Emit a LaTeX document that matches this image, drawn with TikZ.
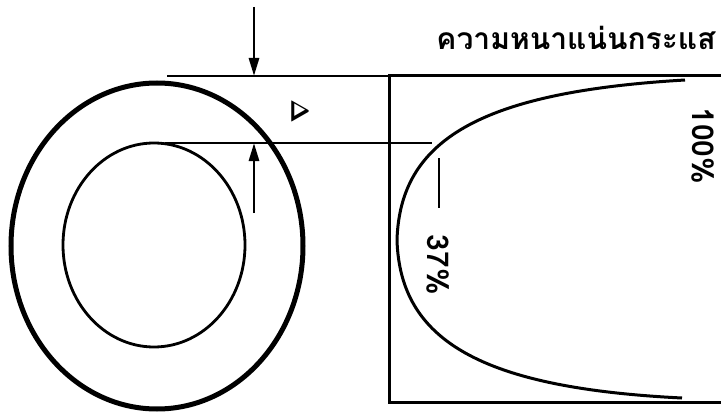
\documentclass[tikz,border=0pt]{standalone}
\usepackage{fontspec}
\usepackage{amsmath}
\newfontfamily\thaifont[Script=Thai]{Loma}
\usetikzlibrary{arrows.meta, positioning}

\begin{document}
\begin{tikzpicture}[
    x=1pt, y=-1pt,
    every node/.style={font=\thaifont\bfseries},
    ring/.style={line width=5pt},
    core/.style={line width=2.8pt},
    wire/.style={line width=2.8pt},
    frame/.style={line width=3pt},
    arrow/.style={-{Triangle[length=18pt, width=10pt]}, line width=2.8pt},
    curve/.style={line width=3pt},
    label/.style={font=\thaifont\bfseries\fontsize{30}{30}\selectfont, rotate=-90}
]
\useasboundingbox (0,0) rectangle (721,412);

% ============ CONDUCTOR CROSS SECTION ============
\draw[ring] (157,246) ellipse [x radius=146, y radius=163];
\draw[core] (154,245) ellipse [x radius=91, y radius=102];

% ============ SKIN DEPTH LINES ============
\coordinate (outerEdge) at (167,76);
\coordinate (innerEdge) at (165,143);
\coordinate (boxTop) at (389,76);
\coordinate (depthEnd) at (432,143);

\draw[wire] (outerEdge) -- (boxTop);
\draw[wire] (innerEdge) -- (depthEnd);

% Arrows
\coordinate (topTail) at (254,7);
\coordinate (topTip) at (254,76);
\coordinate (botTail) at (254,213);
\coordinate (botTip) at (254,143);
\draw[arrow] (topTail) -- (topTip);
\draw[arrow] (botTail) -- (botTip);

\node[rotate=-90] (delta) at (300,111) {\scalebox{2.5}{$\boldsymbol{\Delta}$}};

% ============ CURRENT DENSITY PLOT ============
\node[font=\thaifont\bfseries\fontsize{30}{30}\selectfont] (title) at (576,38) {ความหนาแน่นกระแส};

\draw[frame] (721,76) -- (boxTop) -- (389,402) -- (721,402);

\coordinate (curveTop) at (685,80);
\coordinate (curveMid) at (397,240);
\coordinate (curveBot) at (682,398);
\draw[curve] (curveTop) .. controls (480,92) and (400,140) .. (curveMid)
    .. controls (400,340) and (480,388) .. (curveBot);

% Labels
\node[label] (full) at (703,146) {100\%};
\coordinate (markTop) at (439,158);
\coordinate (markBot) at (439,208);
\draw[wire] (markTop) -- (markBot);
\node[label] (third) at (438,265) {37\%};

\end{tikzpicture}
\end{document}
